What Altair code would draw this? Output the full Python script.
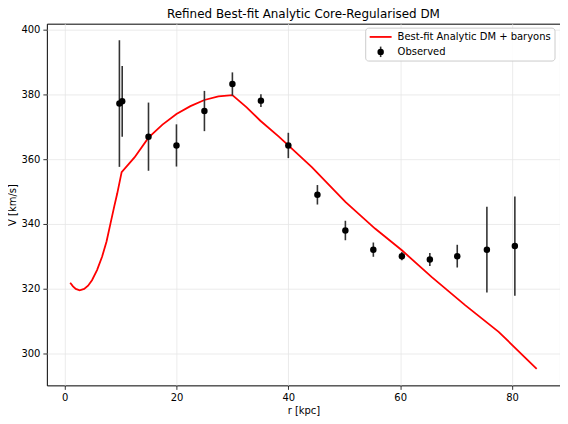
import altair as alt
import pandas as pd

# Observed rotation curve
obs_r = [9.8, 10.3, 15.0, 20.0, 25.0, 30.0, 35.1, 40.0, 45.2, 50.2, 55.2, 60.3, 65.3, 70.2, 75.5, 80.5]
obs_v = [377.1, 377.8, 366.9, 364.2, 374.8, 383.1, 378.0, 364.2, 349.0, 338.0, 332.1, 330.1, 329.1, 330.1, 332.1, 333.2]
obs_err = [19.5, 10.9, 10.5, 6.5, 6.2, 3.6, 2.0, 3.9, 3.0, 3.0, 2.2, 1.3, 2.0, 3.5, 13.2, 15.3]

# Best-fit model curve
fit_r = [1.0, 1.5, 2.0, 2.7, 3.5, 4.2, 4.9, 5.8, 6.7, 7.5, 8.2, 8.9, 9.4, 10.2, 12.5, 15.0, 17.5, 20.0,
         22.5, 25.0, 27.5, 30.0, 32.5, 35.0, 38.3, 40.0, 44.2, 50.2, 55.5, 60.3, 65.6, 71.6, 77.6, 84.4]
fit_v = [321.9, 320.8, 320.0, 319.6, 320.0, 321.0, 322.7, 325.8, 329.9, 334.6, 340.1, 345.6, 349.3, 356.0, 360.5, 366.6, 370.6, 373.9,
         376.3, 378.2, 379.3, 379.7, 376.0, 371.8, 366.9, 364.2, 357.5, 346.8, 338.6, 331.9, 323.7, 315.0, 306.8, 295.4]

x_ticks = [0, 20, 40, 60, 80]
y_ticks = [300, 320, 340, 360, 380, 400]
x_dom = [-3.17, 88.57]
y_dom = [290.3, 401.7]

TITLE = "Refined Best-fit Analytic Core-Regularised DM"
FONT = "DejaVu Sans"

obs = pd.DataFrame({"r": obs_r, "v": obs_v, "err": obs_err})
obs["lo"] = obs["v"] - obs["err"]
obs["hi"] = obs["v"] + obs["err"]
fit = pd.DataFrame({"r": fit_r, "v": fit_v})

xs = alt.Scale(domain=x_dom, nice=False, zero=False)
ys = alt.Scale(domain=y_dom, nice=False, zero=False)

xax = alt.Axis(values=x_ticks, title="r [kpc]", grid=True, format="d")
yax = alt.Axis(values=y_ticks, title="V [km/s]", grid=True, format="d")

line = alt.Chart(fit).mark_line(color="#ff0000", strokeWidth=1.8, clip=True).encode(
    x=alt.X("r:Q", scale=xs, axis=xax),
    y=alt.Y("v:Q", scale=ys, axis=yax),
    order="r:Q",
)

bars = alt.Chart(obs).mark_rule(color="#333333", strokeWidth=1.6).encode(
    x=alt.X("r:Q", scale=xs),
    y=alt.Y("lo:Q", scale=ys),
    y2="hi:Q",
)

pts = alt.Chart(obs).mark_circle(color="black", size=42, opacity=1).encode(
    x=alt.X("r:Q", scale=xs),
    y=alt.Y("v:Q", scale=ys),
)

one = pd.DataFrame({"k": [0]})

# chart title as a text mark above the plot area
title_mark = alt.Chart(one).mark_text(
    text=TITLE, align="center", baseline="alphabetic",
    font=FONT, fontSize=12, color="black"
).encode(x=alt.value(257.5), y=alt.value(-5.6))

# legend (drawn in plot pixel space)
leg_box = alt.Chart(one).mark_rect(
    fill="white", fillOpacity=0.85, stroke="#cccccc", strokeWidth=1, cornerRadius=3
).encode(x=alt.value(320), x2=alt.value(510), y=alt.value(4.5), y2=alt.value(37.5))
leg_line = alt.Chart(one).mark_rule(color="#ff0000", strokeWidth=1.8).encode(
    x=alt.value(324), x2=alt.value(346), y=alt.value(13.3)
)
leg_bar = alt.Chart(one).mark_rule(color="#333333", strokeWidth=1.6).encode(
    x=alt.value(335), y=alt.value(23), y2=alt.value(33.5)
)
leg_dot = alt.Chart(one).mark_circle(color="black", size=42, opacity=1).encode(
    x=alt.value(335), y=alt.value(28.3)
)
leg_t1 = alt.Chart(one).mark_text(
    text="Best-fit Analytic DM + baryons", align="left", baseline="middle",
    font=FONT, fontSize=10, color="black"
).encode(x=alt.value(352), y=alt.value(13.3))
leg_t2 = alt.Chart(one).mark_text(
    text="Observed", align="left", baseline="middle",
    font=FONT, fontSize=10, color="black"
).encode(x=alt.value(352), y=alt.value(28.3))

chart = alt.layer(
    line, bars, pts, title_mark, leg_box, leg_line, leg_bar, leg_dot, leg_t1, leg_t2
).properties(
    width=515,
    height=363,
    autosize=alt.AutoSizeParams(type="none"),
    padding={"left": 39, "top": 15, "right": 0, "bottom": 30},
).configure_view(
    stroke="black", strokeWidth=1
).configure_axis(
    domain=False,
    gridColor="#e6e6e6",
    gridWidth=0.8,
    tickColor="black",
    tickSize=4,
    tickWidth=0.8,
    labelFont=FONT,
    labelFontSize=10,
    labelColor="black",
    labelPadding=3,
    titleFont=FONT,
    titleFontSize=10,
    titleFontWeight="normal",
    titleColor="black",
).configure_axisX(
    titlePadding=3,
).configure_axisY(
    titlePadding=3,
)

chart.save("out.html", embed_options={"renderer": "svg", "actions": False})
